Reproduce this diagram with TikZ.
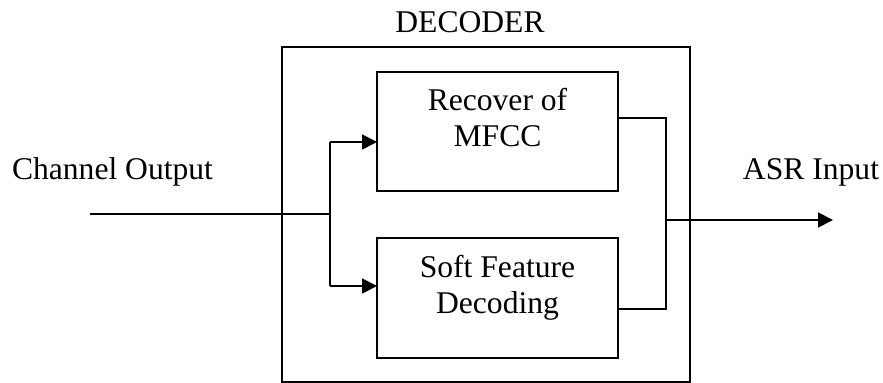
\documentclass[tikz,border=0pt]{standalone}
\usepackage{fontspec}
\setmainfont{Liberation Serif}
\usetikzlibrary{arrows.meta}
\begin{document}
\begin{tikzpicture}[x=0.5pt,y=-0.5pt,
  box/.style={draw,line width=1pt,rectangle,inner sep=0pt,outer sep=0pt},
  lbl/.style={font=\fontsize{15.8}{18}\selectfont,anchor=base,inner sep=0pt,align=center},
  conn/.style={line width=0.9pt},
  arr/.style={conn,-{Triangle[length=7.5pt,width=7.5pt]}}]
\useasboundingbox (0,0) rectangle (883,383);
% outer decoder box
\node[box,minimum width=204pt,minimum height=167.5pt] (dec) at (486,214.5) {};
\node[lbl] (dectitle) at (470,33) {DECODER};
% inner boxes
\node[box,minimum width=120.5pt,minimum height=59.5pt] (rec) at (497.5,131.5) {};
\node[box,minimum width=120.5pt,minimum height=60pt] (sfd) at (497.5,298) {};
\node[lbl] (rect) at (497.5,147) {Recover of\\MFCC};
\node[lbl] (sfdt) at (497.5,314) {Soft Feature\\Decoding};
% outside labels
\node[lbl] (chan) at (112.5,180) {Channel Output};
\node[lbl] (asr) at (811,180) {ASR Input};
% connectors
\coordinate (in) at (90,214);
\coordinate (sp) at (330,214);
\coordinate (t1) at (330,142);
\coordinate (t2) at (330,286);
\coordinate (o1) at (618,118);
\coordinate (o2) at (618,309);
\coordinate (jn) at (666,220);
\coordinate (out) at (833,220);
\draw[conn] (in) -- (sp);
\draw[conn] (t1) -- (t2);
\draw[arr] (t1) -- (t1 -| rec.west);
\draw[arr] (t2) -- (t2 -| sfd.west);
\draw[conn] (o1) -| (jn);
\draw[conn] (o2) -| (jn);
\draw[arr] (jn) -- (out);
\end{tikzpicture}
\end{document}
